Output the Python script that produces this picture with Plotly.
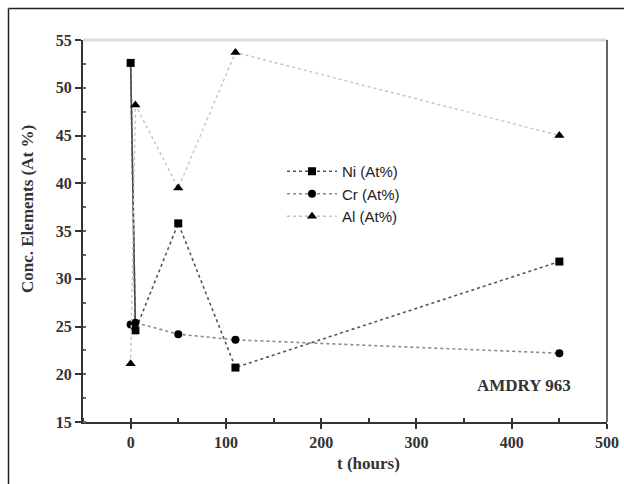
import plotly.graph_objects as go

# ---- data ----
t_hours = [0, 5, 50, 110, 450]
ni_at = [52.6, 24.6, 35.8, 20.7, 31.8]
cr_at = [25.2, 25.4, 24.2, 23.6, 22.2]
al_at = [21.1, 48.2, 39.5, 53.7, 45.0]
series_names = ["Ni (At%)", "Cr (At%)", "Al (At%)"]
x_ticks = [0, 100, 200, 300, 400, 500]
y_ticks = [15, 20, 25, 30, 35, 40, 45, 50, 55]

serif = "Liberation Serif"
sans = "Liberation Sans"

fig = go.Figure()

# first Ni segment drawn solid
fig.add_trace(go.Scatter(
    x=t_hours[:2], y=ni_at[:2], mode="lines",
    line=dict(color="#444444", width=1.6), showlegend=False, hoverinfo="skip"))

fig.add_trace(go.Scatter(
    x=t_hours, y=ni_at, mode="lines+markers", name=series_names[0],
    line=dict(color="#555555", width=1.6, dash="dot"),
    marker=dict(symbol="square", size=8, color="black")))
fig.add_trace(go.Scatter(
    x=t_hours, y=cr_at, mode="lines+markers", name=series_names[1],
    line=dict(color="#8a8a8a", width=1.6, dash="dot"),
    marker=dict(symbol="circle", size=8, color="black")))
fig.add_trace(go.Scatter(
    x=t_hours, y=al_at, mode="lines+markers", name=series_names[2],
    line=dict(color="#c4c4c4", width=1.4, dash="dot"),
    marker=dict(symbol="triangle-up", size=9, color="black")))

W, H = 624, 484
# plot box in page pixels: left 83, right 607, top 40, bottom 422
L, T = 83, 40
R, B = W - 607, H - 422
pw, ph = W - L - R, H - T - B

def px2x(px):
    return (px - L) / pw

def py2y(py):
    return (H - B - py) / ph

fig.update_layout(
    width=W, height=H,
    margin=dict(l=L, r=R, t=T, b=B, autoexpand=False),
    paper_bgcolor="white", plot_bgcolor="white",
    showlegend=True,
    legend=dict(x=px2x(282), y=py2y(155), xanchor="left", yanchor="top",
                bgcolor="rgba(0,0,0,0)", font=dict(family=sans, size=15, color="#222"),
                tracegroupgap=0, itemwidth=50),
    xaxis=dict(range=[-50, 500], tickvals=x_ticks, showgrid=False, zeroline=False,
               showline=True, linecolor="#333", linewidth=2,
               ticks="outside", ticklen=5, tickwidth=2, tickcolor="#333",
               ticklabeloverflow="allow",
               tickfont=dict(family=serif, size=16, color="#333", weight="bold"),
               minor=dict(dtick=50, ticks="inside", ticklen=4, tickwidth=2, tickcolor="#333"),
               title=None),
    yaxis=dict(range=[15, 55], tickvals=y_ticks, showgrid=False, zeroline=False,
               showline=True, linecolor="#333", linewidth=2,
               ticks="outside", ticklen=6, tickwidth=2, tickcolor="#333",
               tickfont=dict(family=serif, size=16, color="#333", weight="bold"),
               minor=dict(dtick=2.5, ticks="inside", ticklen=3, tickwidth=1.5, tickcolor="#666"),
               title=None),
)

# top (light) and right (grey) frame lines of the plot box
fig.add_shape(type="line", xref="paper", yref="paper", x0=0, x1=1, y0=1, y1=1,
              line=dict(color="#dddddd", width=3))
fig.add_shape(type="line", xref="paper", yref="paper", x0=1, x1=1, y0=0, y1=1,
              line=dict(color="#666666", width=2))

# outer page frame (top and left edges)
fig.add_shape(type="line", xref="paper", yref="paper",
              x0=px2x(8.5), x1=px2x(640), y0=py2y(8.5), y1=py2y(8.5),
              line=dict(color="#222", width=1.5))
fig.add_shape(type="line", xref="paper", yref="paper",
              x0=px2x(8.5), x1=px2x(8.5), y0=py2y(8.5), y1=py2y(500),
              line=dict(color="#222", width=1.5))

# axis titles
fig.add_annotation(text="t (hours)", xref="paper", yref="paper",
                   x=px2x(368), y=py2y(463), xanchor="center", yanchor="middle",
                   showarrow=False,
                   font=dict(family=serif, size=17, color="#333", weight="bold"))
fig.add_annotation(text="Conc. Elements (At %)", xref="paper", yref="paper",
                   x=px2x(27), y=py2y(209), xanchor="center", yanchor="middle",
                   showarrow=False, textangle=-90,
                   font=dict(family=serif, size=17, color="#333", weight="bold"))
fig.add_annotation(text="AMDRY 963", xref="paper", yref="paper",
                   x=px2x(524), y=py2y(385), xanchor="center", yanchor="middle",
                   showarrow=False,
                   font=dict(family=serif, size=17, color="#333", weight="bold"))

fig.write_html(
    "out.html",
    config={"displayModeBar": False},
    post_script="document.body.style.margin='0';document.body.style.overflow='hidden';",
)
